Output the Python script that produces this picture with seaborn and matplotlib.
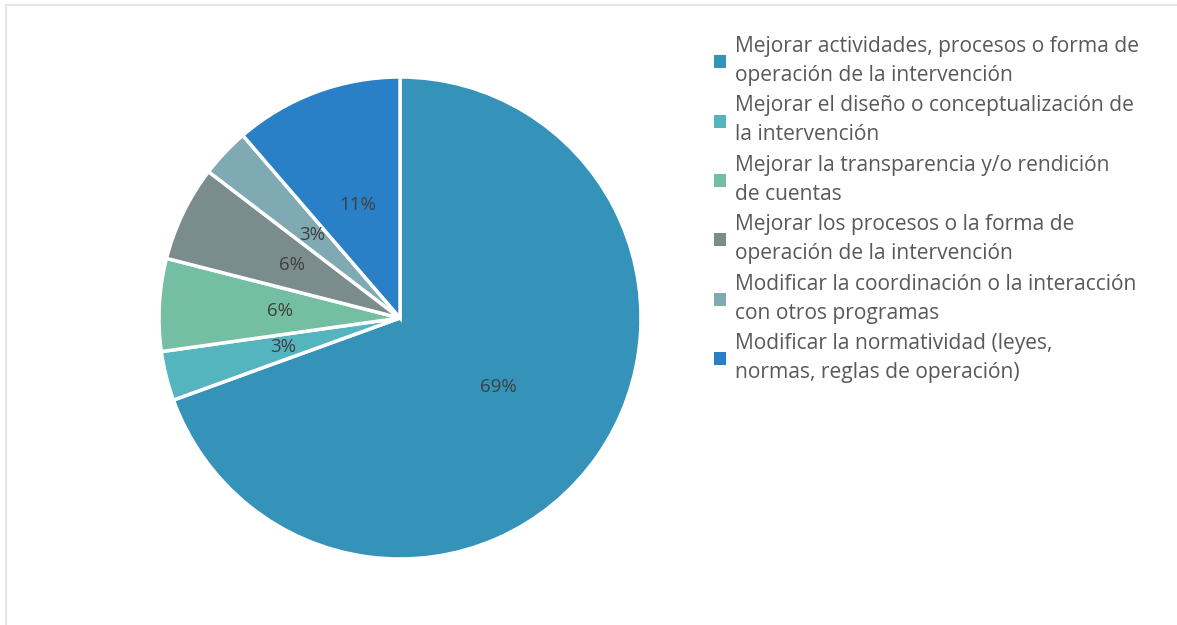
import matplotlib
matplotlib.use("Agg")
import matplotlib.pyplot as plt
import seaborn as sns
import numpy as np
from matplotlib.patches import Patch
from matplotlib.lines import Line2D

categories = [
    "Mejorar actividades, procesos o forma de\noperación de la intervención",
    "Mejorar el diseño o conceptualización de\nla intervención",
    "Mejorar la transparencia y/o rendición\nde cuentas",
    "Mejorar los procesos o la forma de\noperación de la intervención",
    "Modificar la coordinación o la interacción\ncon otros programas",
    "Modificar la normatividad (leyes,\nnormas, reglas de operación)",
]
values = [69.4, 3.3, 6.2, 6.4, 3.3, 11.3]
pct_labels = ["69%", "3%", "6%", "6%", "3%", "11%"]
colors = ["#3593BA", "#55B5BF", "#74BFA4", "#7A8C8C", "#7FAAB4", "#2980C6"]

sns.set_theme(style="white")
plt.rcParams["font.family"] = ["Open Sans", "DejaVu Sans"]

W, H = 1177, 625
fig = plt.figure(figsize=(W / 100, H / 100), dpi=100)
fig.patch.set_facecolor("white")

# frame lines (top and left)
fig.add_artist(Line2D([6 / W, 1], [1 - 5 / H, 1 - 5 / H], color="#e6e6e6", lw=1.6, transform=fig.transFigure))
fig.add_artist(Line2D([6 / W, 6 / W], [0, 1 - 5 / H], color="#e6e6e6", lw=1.6, transform=fig.transFigure))

cx, cy, r = 400, 318, 241
ax = fig.add_axes([(cx - r) / W, (H - cy - r) / H, 2 * r / W, 2 * r / H])
wedges, texts = ax.pie(
    values,
    colors=colors,
    startangle=90,
    counterclock=False,
    radius=1.0,
    wedgeprops=dict(edgecolor="white", linewidth=2.5),
)
ax.set_xlim(-1, 1)
ax.set_ylim(-1, 1)
ax.set_aspect("equal")
ax.axis("off")

theta = 90.0
total = sum(values)
for v, lab in zip(values, pct_labels):
    span = 360.0 * v / total
    mid = np.deg2rad(theta - span / 2)
    ax.text(0.5 * np.cos(mid), 0.5 * np.sin(mid), lab, ha="center", va="center",
            fontsize=13.5, color="#404040")
    theta -= span

handles = [Patch(facecolor=c, edgecolor="none") for c in colors]
leg = fig.legend(
    handles, categories,
    loc="upper left",
    bbox_to_anchor=(714 / W, 1 - 36 / H),
    frameon=False,
    fontsize=15.1,
    borderpad=0,
    borderaxespad=0,
    handlelength=0.58,
    handleheight=0.58,
    handletextpad=0.4,
    labelspacing=0.45,
    labelcolor="#595959",
)
for t in leg.get_texts():
    t.set_linespacing(1.5)

fig.savefig("out.png", dpi=100, facecolor="white")
